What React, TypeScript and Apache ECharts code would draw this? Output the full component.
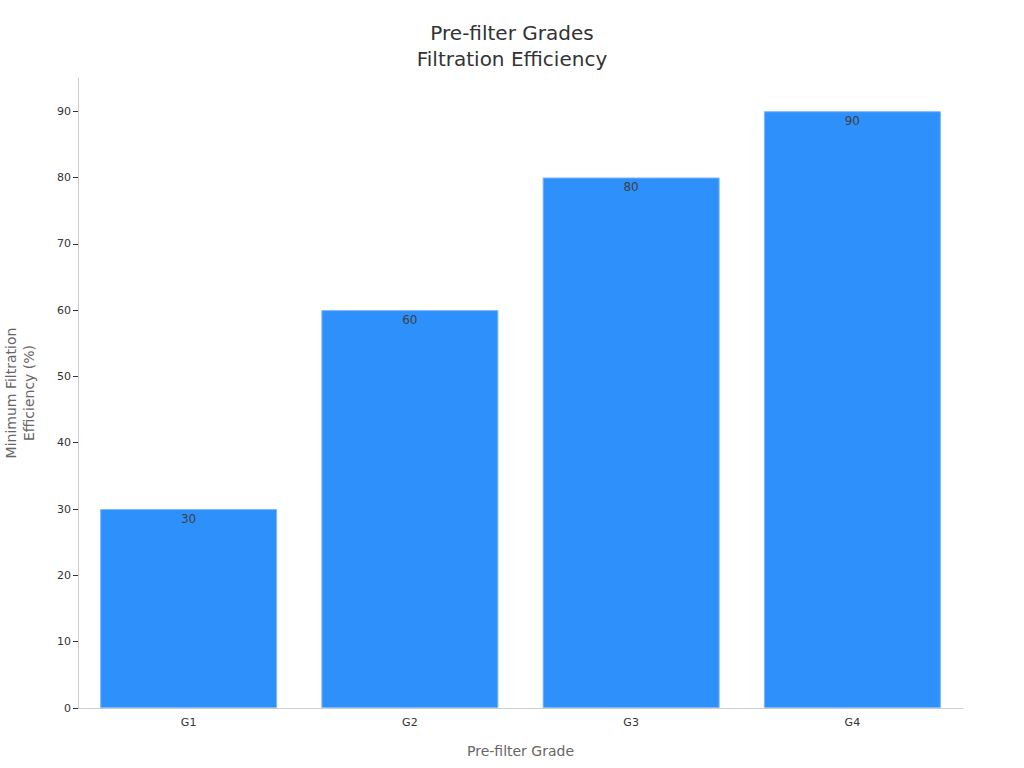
import { useEffect, useRef } from 'react';
import * as echarts from 'echarts';

const grades = ['G1', 'G2', 'G3', 'G4'];
const efficiency = [30, 60, 80, 90];

const FONT = '"DejaVu Sans", sans-serif';

export default function App() {
  const containerRef = useRef<HTMLDivElement>(null);

  useEffect(() => {
    if (!containerRef.current) return;
    const chart = echarts.init(containerRef.current, null, { renderer: 'svg' });

    const option: echarts.EChartsOption = {
      animation: false,
      backgroundColor: '#ffffff',
      textStyle: { fontFamily: FONT },
      title: {
        text: 'Pre-filter Grades\nFiltration Efficiency',
        left: 'center',
        top: 15,
        textStyle: { fontFamily: FONT, fontSize: 20, fontWeight: 'normal', color: '#333333', lineHeight: 26 }
      },
      grid: { left: 78, right: 61, top: 78, bottom: 60, outerBoundsMode: 'none' } as any,
      xAxis: {
        type: 'category',
        data: grades,
        name: 'Pre-filter Grade',
        nameLocation: 'middle',
        nameGap: 36,
        nameTextStyle: { color: '#666666', fontSize: 14, fontFamily: FONT, verticalAlign: 'top' },
        axisLine: { lineStyle: { color: '#cccccc' } },
        axisTick: { alignWithLabel: true, length: 5, lineStyle: { color: '#333333' } },
        axisLabel: { color: '#333333', fontSize: 11, margin: 9, fontFamily: FONT }
      },
      yAxis: {
        type: 'value',
        min: 0,
        max: 95,
        interval: 10,
        name: 'Minimum Filtration\nEfficiency (%)',
        nameLocation: 'middle',
        nameGap: 40,
        nameTextStyle: { color: '#666666', fontSize: 14, fontFamily: FONT, lineHeight: 18 },
        axisLine: { show: true, lineStyle: { color: '#cccccc' } },
        axisTick: { show: true, length: 5, lineStyle: { color: '#333333' } },
        axisLabel: { color: '#333333', fontSize: 11, margin: 7, fontFamily: FONT, showMaxLabel: false },
        splitLine: { show: false }
      },
      series: [
        {
          type: 'bar',
          data: efficiency,
          barCategoryGap: '20%',
          itemStyle: { color: '#2E90FA', borderColor: '#7DB8F7', borderWidth: 1 },
          label: {
            show: true,
            position: 'insideTop',
            distance: 4,
            color: '#404040',
            fontSize: 12,
            fontFamily: FONT
          }
        }
      ]
    };

    chart.setOption(option);
    return () => chart.dispose();
  }, []);

  return (
    <div
      ref={containerRef}
      style={{ position: 'fixed', left: 0, top: 0, width: 1024, height: 768 }}
    />
  );
}
